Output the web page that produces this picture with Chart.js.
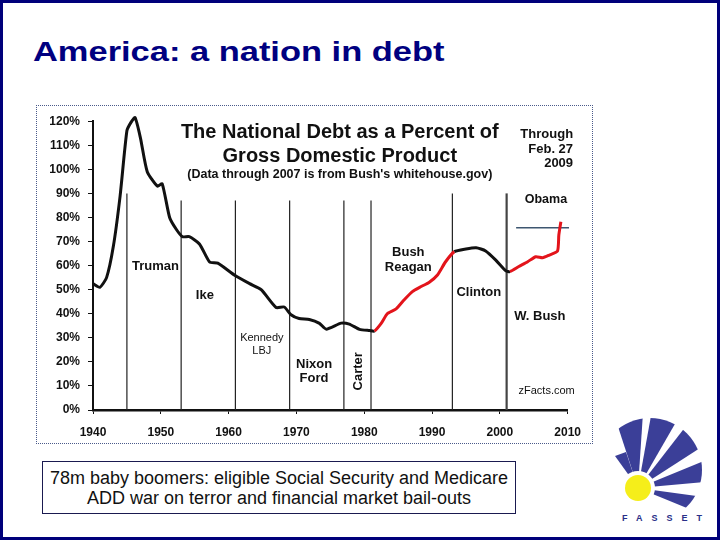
<!DOCTYPE html>
<html>
<head>
<meta charset="utf-8">
<script src="https://cdn.jsdelivr.net/npm/chart.js@4.4.1/dist/chart.umd.min.js"></script>
<style>
  html, body { margin: 0; padding: 0; background: #fff; }
  body { width: 720px; height: 540px; position: relative; overflow: hidden; font-family: "Liberation Sans", Arial, sans-serif; }
  .slide { position: absolute; left: 0; top: 0; width: 714px; height: 534px; border: 3px solid #00007a; }
  .title { position: absolute; left: 33px; top: 36px; font-size: 28px; font-weight: bold; color: #000080; transform: scaleX(1.23); transform-origin: left top; white-space: nowrap; }
  .frame { position: absolute; left: 36px; top: 105px; width: 555px; height: 337px; border: 1px dotted #4a5a8a; background: #fff; }
  .frame canvas { position: absolute; left: 0; top: 0; }
  .note { position: absolute; left: 42px; top: 461px; width: 474px; height: 53px; border: 1px solid #1a1a50; text-align: center; font-size: 18px; line-height: 20px; color: #111; padding-top: 6px; box-sizing: border-box; white-space: nowrap; }
  .logo { position: absolute; left: 600px; top: 410px; }
</style>
</head>
<body>
<div class="slide"></div>
<div class="title">America: a nation in debt</div>
<div class="frame"><canvas id="debtChart" width="555" height="337"></canvas></div>
<div class="note">78m baby boomers: eligible Social Security and Medicare<br>ADD war on terror and financial market bail-outs</div>
<svg class="logo" width="115" height="120" viewBox="0 0 115 120">
  <defs><clipPath id="outer"><circle cx="50" cy="60" r="52"/></clipPath></defs>
  <g clip-path="url(#outer)" fill="#3b3f98">
    <polygon points="38,78 15,46 26,42"/>
    <polygon points="38,78 10,-8 44,-12"/>
    <polygon points="38,78 54,-11 83,0"/>
    <polygon points="38,78 93,7 114,29"/>
    <polygon points="38,78 121,44 128,70"/>
    <polygon points="38,78 127,90 121,112"/>
  </g>
  <circle cx="38" cy="78" r="17" fill="#fff"/>
  <circle cx="38" cy="78" r="13" fill="#f5ee1a"/>
  <text x="22" y="111" font-family="Liberation Sans, Arial" font-weight="bold" font-size="9" fill="#2a2f88" letter-spacing="9">FASSET</text>
</svg>
<script>
// national debt as % of GDP
const years = [1940, 1941, 1942, 1943, 1944, 1945, 1945.6, 1946.2, 1947, 1948, 1949.5, 1950.2,
  1951.3, 1952.3, 1953.2, 1954.2, 1955.7, 1957.2, 1958.4, 1960.9, 1963.1, 1964.8, 1967, 1968.2,
  1969.2, 1970.4, 1971.9, 1973.4, 1974.4, 1976.6, 1977.8, 1979.3, 1980.8, 1981.5, 1982.5, 1983.4,
  1984.7, 1985.9, 1987.1, 1988.4, 1989.6, 1990.8, 1992, 1993.3, 1995, 1996.5, 1997.9, 1999.4,
  2000.9, 2001.5, 2002.8, 2004.1, 2005.3, 2006.3, 2007.3, 2008.5, 2008.7, 2009.0];
const debtPct = [52.5, 51, 55, 68, 89, 116, 119.5, 121.5, 113, 99, 93, 94,
  80, 75, 72, 72, 69, 61.5, 61, 56, 52.5, 50, 42.6, 42.8,
  39.6, 38, 37.6, 36, 33.6, 36.1, 35.7, 33.5, 33, 32.8, 36, 40,
  42, 45.8, 49.2, 51.3, 53.1, 56.1, 61.6, 65.8, 66.9, 67.4, 66.1, 62.3,
  57.8, 57.5, 59.6, 61.6, 63.7, 63.3, 64.4, 66, 72.7, 78.2];
const redSpans = [[1981.5, 1993.3], [2001.5, 2010]];
const termStarts = [1945, 1953, 1961, 1969, 1977, 1981, 1993, 2001];
const termTops = [90, 87, 87, 87, 87, 87, 90, 90];
const obamaLevel = 75.7;
const obamaSpan = [2002.4, 2010.2];
const xTicks = [1940, 1950, 1960, 1970, 1980, 1990, 2000, 2010];
const yTicks = [0, 10, 20, 30, 40, 50, 60, 70, 80, 90, 100, 110, 120];

// text drawn inside the plot, placed in data coordinates
const plotTexts = [
  { t: 'The National Debt as a Percent of', x: 1976.4, y: 115.4, f: 'bold 20px', w: 324 },
  { t: 'Gross Domestic Product', x: 1976.4, y: 105.5, f: 'bold 20px', w: 240 },
  { t: "(Data through 2007 is from Bush's whitehouse.gov)", x: 1976.4, y: 98, f: 'bold 12.5px', w: 320 },
  { t: 'Through', x: 2010.8, y: 114.6, f: 'bold 13px', a: 'right' },
  { t: 'Feb. 27', x: 2010.8, y: 108.4, f: 'bold 13px', a: 'right' },
  { t: '2009', x: 2010.8, y: 102.6, f: 'bold 13px', a: 'right' },
  { t: 'Obama', x: 2006.8, y: 87.3, f: 'bold 12.5px' },
  { t: 'Truman', x: 1949.2, y: 59.6, f: 'bold 13px' },
  { t: 'Ike', x: 1956.5, y: 47.6, f: 'bold 13px' },
  { t: 'Kennedy', x: 1964.9, y: 29.8, f: '11px' },
  { t: 'LBJ', x: 1964.9, y: 24.4, f: '11px' },
  { t: 'Nixon', x: 1972.6, y: 19, f: 'bold 13px' },
  { t: 'Ford', x: 1972.6, y: 13.2, f: 'bold 13px' },
  { t: 'Carter', x: 1979.1, y: 16.1, f: 'bold 13px', r: true },
  { t: 'Bush', x: 1986.5, y: 65.4, f: 'bold 13px' },
  { t: 'Reagan', x: 1986.5, y: 59.2, f: 'bold 13px' },
  { t: 'Clinton', x: 1996.9, y: 48.8, f: 'bold 13px' },
  { t: 'W. Bush', x: 2005.9, y: 38.9, f: 'bold 13px' },
  { t: 'zFacts.com', x: 2006.9, y: 7.9, f: '11px' },
];

const RED = '#e3141b';
const INK = '#111';
const FONT = '"Liberation Sans", Arial, sans-serif';

function isRed(a, b) {
  return redSpans.some(s => a >= s[0] - 0.01 && b <= s[1] + 0.01);
}

const decorations = {
  id: 'decorations',
  beforeDatasetsDraw(chart) {
    const { ctx, scales: { x, y } } = chart;
    ctx.save();
    // presidential term lines
    termStarts.forEach((yr, i) => {
      ctx.beginPath();
      ctx.strokeStyle = yr === 2001 ? '#444' : '#222';
      ctx.lineWidth = yr === 2001 ? 2.2 : 1.2;
      ctx.moveTo(x.getPixelForValue(yr), y.getPixelForValue(termTops[i]));
      ctx.lineTo(x.getPixelForValue(yr), y.getPixelForValue(0));
      ctx.stroke();
    });
    // Obama level
    ctx.beginPath();
    ctx.strokeStyle = '#3d5670';
    ctx.lineWidth = 1.6;
    ctx.moveTo(x.getPixelForValue(obamaSpan[0]), y.getPixelForValue(obamaLevel));
    ctx.lineTo(x.getPixelForValue(obamaSpan[1]), y.getPixelForValue(obamaLevel));
    ctx.stroke();
    // labels
    ctx.fillStyle = INK;
    ctx.textBaseline = 'middle';
    plotTexts.forEach(n => {
      ctx.font = n.f + ' ' + FONT;
      ctx.textAlign = n.a || 'center';
      const px = x.getPixelForValue(n.x), py = y.getPixelForValue(n.y);
      if (n.r) {
        ctx.save();
        ctx.translate(px, py);
        ctx.rotate(-Math.PI / 2);
        ctx.fillText(n.t, 0, 0);
        ctx.restore();
      } else if (n.w) {
        ctx.fillText(n.t, px, py, n.w);
      } else {
        ctx.fillText(n.t, px, py);
      }
    });
    ctx.restore();
  }
};

new Chart(document.getElementById('debtChart'), {
  type: 'line',
  data: {
    datasets: [{
      data: years.map((yr, i) => ({ x: yr, y: debtPct[i] })),
      borderColor: INK,
      borderWidth: 3,
      pointRadius: 0,
      tension: 0.2,
      clip: 8,
      segment: {
        borderColor: c => isRed(c.p0.parsed.x, c.p1.parsed.x) ? RED : INK,
      },
    }]
  },
  options: {
    responsive: false,
    animation: false,
    layout: { padding: { top: 12, right: 24, left: 0, bottom: 0 } },
    plugins: { legend: { display: false }, tooltip: { enabled: false } },
    scales: {
      x: {
        type: 'linear',
        min: 1940,
        max: 2010,
        afterFit: s => { s.height = 33; },
        afterBuildTicks: s => { s.ticks = xTicks.map(v => ({ value: v })); },
        ticks: { color: INK, font: { family: FONT, weight: 'bold', size: 12 }, padding: 11, callback: v => String(v) },
        grid: { drawOnChartArea: false, color: INK, tickLength: 4 },
        border: { color: INK, width: 2.5 },
      },
      y: {
        min: 0,
        max: 120,
        afterFit: s => { s.width = 56; },
        afterBuildTicks: s => { s.ticks = yTicks.map(v => ({ value: v })); },
        ticks: { color: INK, font: { family: FONT, weight: 'bold', size: 12 }, padding: 8, callback: v => v + '%' },
        grid: { drawOnChartArea: false, color: INK, tickLength: 5 },
        border: { color: INK, width: 2 },
      }
    }
  },
  plugins: [decorations]
});
</script>
</body>
</html>
